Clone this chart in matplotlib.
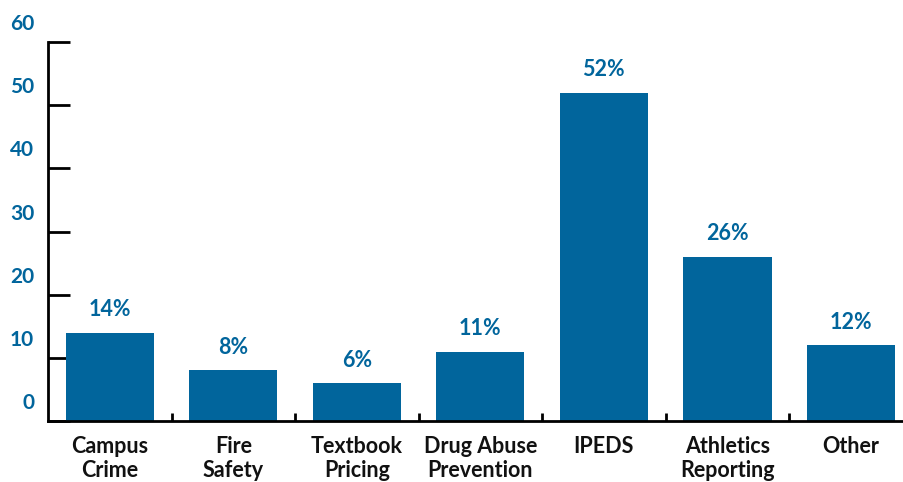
import matplotlib
matplotlib.use("Agg")
import matplotlib.pyplot as plt
from matplotlib.transforms import ScaledTranslation

plt.rcParams['font.family'] = ['Lato', 'DejaVu Sans']
plt.rcParams['font.weight'] = 'bold'

categories = ["Campus\nCrime", "Fire\nSafety", "Textbook\nPricing", "Drug Abuse\nPrevention",
              "IPEDS", "Athletics\nReporting", "Other"]
values = [14, 8, 6, 11, 52, 26, 12]
y_ticks = [0, 10, 20, 30, 40, 50, 60]

BLUE = "#01659C"

fig = plt.figure(figsize=(9.04, 4.82), dpi=100)
ax = fig.add_axes([48 / 904, 61 / 482, (904 - 48) / 904, 379 / 482])

x = list(range(len(categories)))
ax.bar(x, values, width=0.715, color=BLUE, zorder=2)

for xi, v in zip(x, values):
    ax.annotate(f"{v}%", (xi, v), xytext=(0, 9), textcoords="offset points",
                ha="center", va="bottom", color=BLUE, fontsize=15.5, fontweight="bold")

ax.set_xlim(-0.5, 6.43)
ax.set_ylim(0, 60)

for s in ["top", "right"]:
    ax.spines[s].set_visible(False)
ax.spines["left"].set_linewidth(2)
ax.spines["bottom"].set_linewidth(2)

ax.set_yticks(y_ticks)
ax.set_yticklabels([str(t) for t in y_ticks], color=BLUE, fontsize=15, fontweight="bold")
ax.tick_params(axis="y", direction="in", length=16, width=2, pad=10)
shift = ScaledTranslation(0, 20 / 100, fig.dpi_scale_trans)
for lbl in ax.get_yticklabels():
    lbl.set_transform(lbl.get_transform() + shift)

ax.set_xticks(x)
ax.set_xticklabels(categories, fontsize=15.5, fontweight="bold", color="#111111", linespacing=1.15)
ax.tick_params(axis="x", which="major", length=0, pad=11)
ax.set_xticks([i + 0.5 for i in range(len(categories) - 1)], minor=True)
ax.tick_params(axis="x", which="minor", direction="in", length=6, width=2)

fig.savefig("out.png", dpi=100)
